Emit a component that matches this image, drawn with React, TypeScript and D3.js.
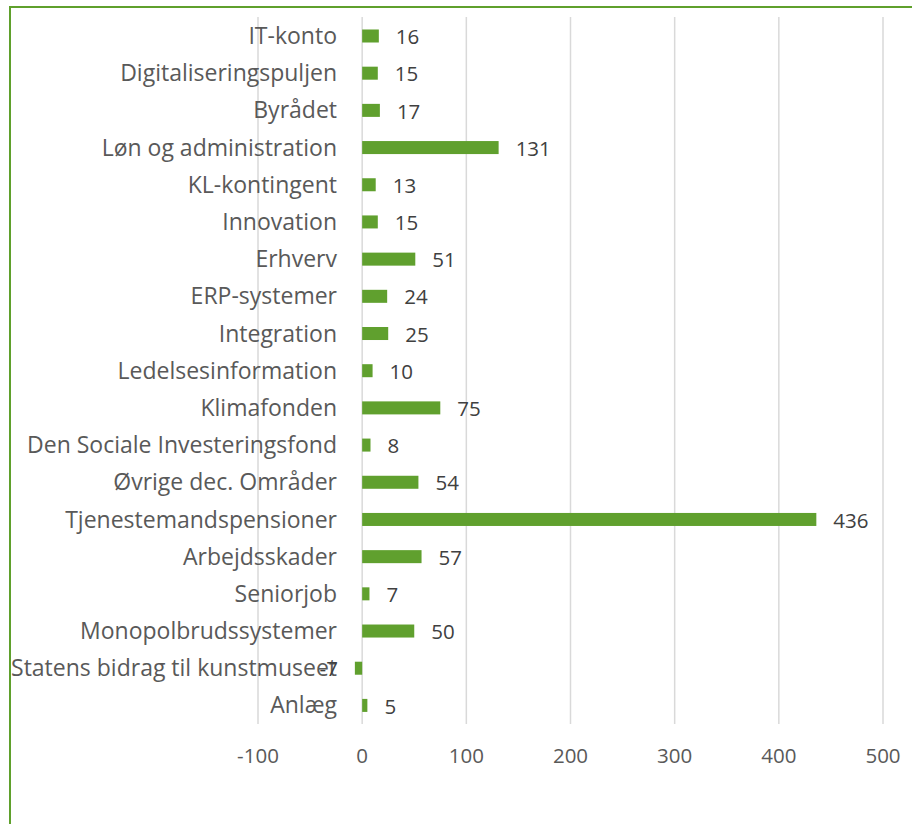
import React from "react";
import * as d3 from "d3";

const categories = [
  "IT-konto",
  "Digitaliseringspuljen",
  "Byrådet",
  "Løn og administration",
  "KL-kontingent",
  "Innovation",
  "Erhverv",
  "ERP-systemer",
  "Integration",
  "Ledelsesinformation",
  "Klimafonden",
  "Den Sociale Investeringsfond",
  "Øvrige dec. Områder",
  "Tjenestemandspensioner",
  "Arbejdsskader",
  "Seniorjob",
  "Monopolbrudssystemer",
  "Statens bidrag til kunstmuseet",
  "Anlæg",
];
const values = [16, 15, 17, 131, 13, 15, 51, 24, 25, 10, 75, 8, 54, 436, 57, 7, 50, -7, 5];
const ticks = [-100, 0, 100, 200, 300, 400, 500];

const W = 912;
const H = 824;
const FONT = "'Open Sans', sans-serif";

export default function App() {
  const x = d3.scaleLinear().domain([-100, 500]).range([258, 883]);
  const y = d3.scaleBand<string>().domain(categories).range([17.4, 724]).paddingInner(0.65).paddingOuter(0.325);
  const top = 17;
  const bottom = 724;
  return (
    <svg width={W} height={H} style={{ position: "absolute", left: 0, top: 0, background: "#fff" }}>
      <rect x={10} y={7} width={W + 20} height={H + 20} fill="#fff" stroke="#5fa02c" strokeWidth={2} />
      {ticks.map((t) => (
        <line key={"g" + t} x1={x(t)} x2={x(t)} y1={top} y2={bottom} stroke="#d9d9d9" strokeWidth={1.5} />
      ))}
      {categories.map((c, i) => {
        const v = values[i];
        const y0 = y(c)!;
        const bh = y.bandwidth();
        const cy = y0 + bh / 2;
        const x0 = x(Math.min(0, v));
        const x1 = x(Math.max(0, v));
        return (
          <g key={c}>
            <rect x={x0} y={y0} width={x1 - x0} height={bh} fill="#60a02e" />
            <text x={337} y={cy} dy="0.35em" textAnchor="end" fontFamily={FONT} fontSize={23} fill="#595959">
              {c}
            </text>
            <text
              x={v >= 0 ? x(v) + 17 : x(v) - 17}
              y={cy + 1}
              dy="0.35em"
              textAnchor={v >= 0 ? "start" : "end"}
              fontFamily={FONT}
              fontSize={20.5}
              fill="#404040"
            >
              {v}
            </text>
          </g>
        );
      })}
      {ticks.map((t) => (
        <text key={"t" + t} x={x(t)} y={756} dy="0.35em" textAnchor="middle" fontFamily={FONT} fontSize={20.5} fill="#595959">
          {t}
        </text>
      ))}
    </svg>
  );
}
